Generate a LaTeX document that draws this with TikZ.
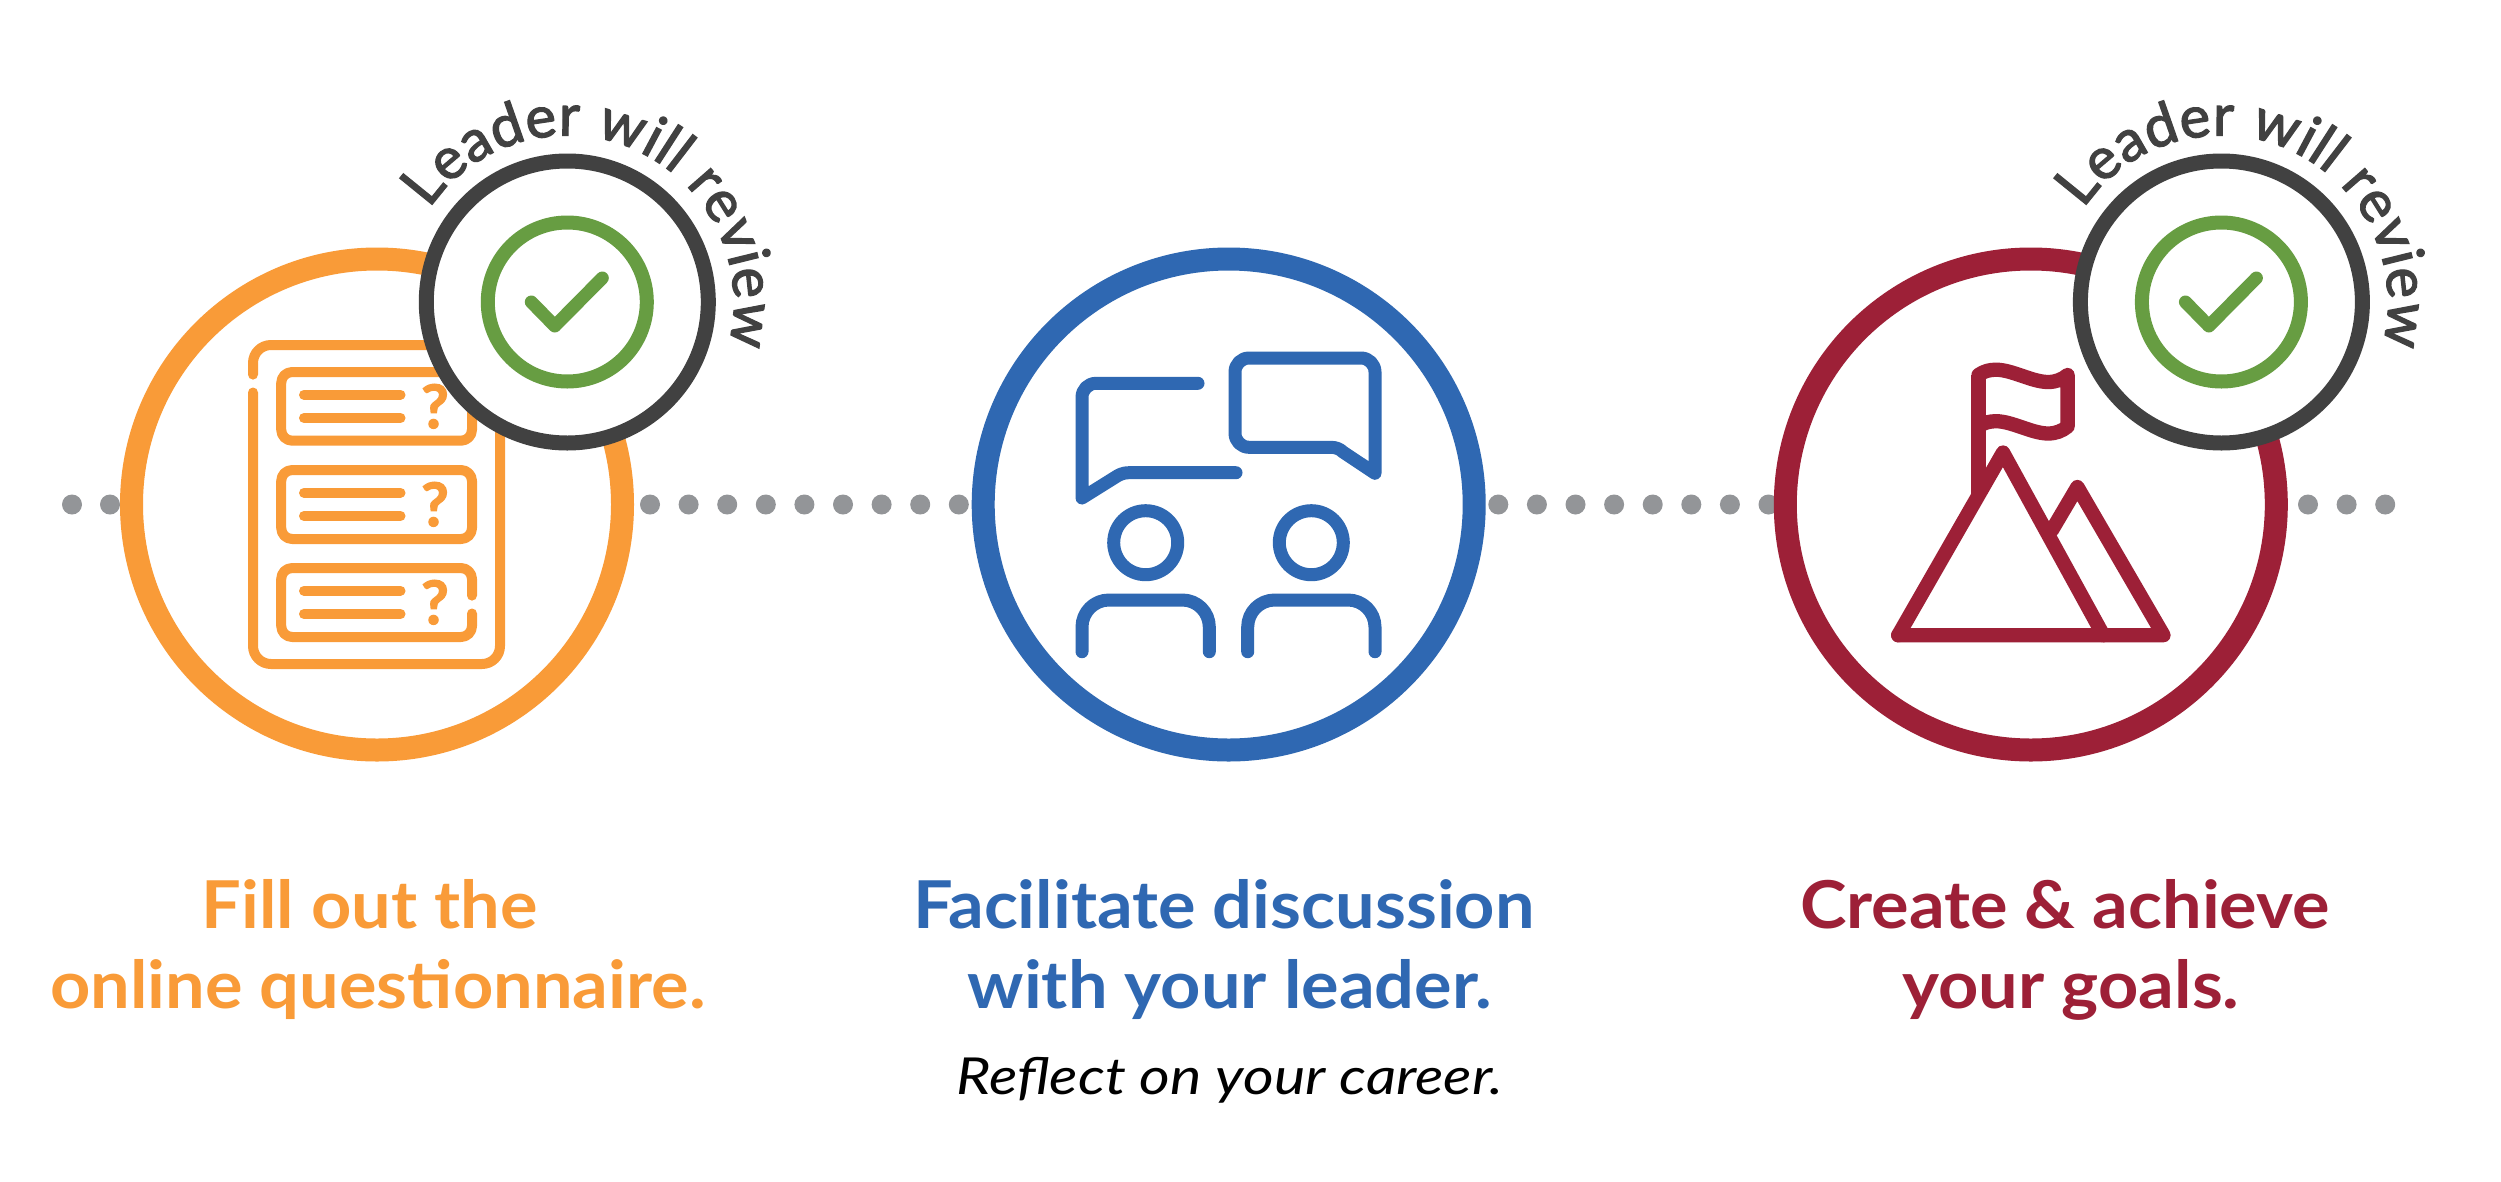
\documentclass[tikz,border=0pt]{standalone}
\usepackage{fontspec}
\setmainfont{Lato}
\newfontfamily\headfont{Lato Bold}[FakeStretch=1.065]
\newfontfamily\reflfont{Lato Italic}[FakeStretch=1.16]
\newfontfamily\arcfont{Lato}[FakeBold=2.2]
\newfontfamily\qfont{Lato Bold}[FakeBold=2.2]
\usetikzlibrary{decorations.text}
\definecolor{cOrange}{HTML}{F99B38}
\definecolor{cBlue}{HTML}{2F68B2}
\definecolor{cRed}{HTML}{9D2037}
\definecolor{cGreen}{HTML}{679D42}
\definecolor{cDark}{HTML}{414141}
\definecolor{cGray}{HTML}{939598}
\tikzset{
  gdot/.style={circle,fill=cGray,minimum size=20pt,inner sep=0pt,outer sep=0pt,draw=none},
  ring/.style={circle,draw=#1,fill=white,line width=23pt,minimum size=491pt,inner sep=0pt,outer sep=0pt},
  ic/.style={line width=#1,line cap=round,line join=round,fill=none},
  heading/.style={font=\fontsize{66}{66}\selectfont\headfont,anchor=base},
  qmark/.style={text=cOrange,font=\fontsize{60}{60}\selectfont\qfont,anchor=base,inner sep=0pt},
}
\newcommand{\dotrow}[3]{\foreach \k in {0,...,#3}{\node[gdot] (d#1\k) at ({#2+38.6*\k},-504.5) {};}}
\newcommand{\badge}[2]{%
  \begin{scope}[shift={(#1,-302)}]
    \node[circle,draw=cDark,fill=white,line width=15pt,minimum size=282pt,inner sep=0pt,outer sep=0pt] (b#2) at (0,0) {};
    \node[circle,draw=cGreen,line width=14pt,minimum size=159pt,inner sep=0pt,outer sep=0pt] (g#2) at (0,0) {};
    \draw[cGreen,line width=13pt,line cap=round,line join=round] (-36,0) -- (-12.5,-24) -- (35,24);
    \path[postaction={decorate,decoration={text along path,text align=fit to path,
      text={|\fontsize{58}{58}\selectfont\arcfont\color{cDark}|Leader will review}}}]
      (146:166.5) arc[start angle=146,end angle=-15,radius=166.5];
  \end{scope}}
\newcommand{\qbox}[2]{%
  \draw[cOrange,ic=10pt] (304,{-(#1+22.7)}) -- (400.5,{-(#1+22.7)});
  \draw[cOrange,ic=10pt] (304,{-(#1+46)}) -- (400.5,{-(#1+46)});
  \node[qmark] (q#2) at (435,{-(#1+56)}) {?};}
\begin{document}
\begin{tikzpicture}[x=1pt,y=1pt]
\useasboundingbox (0,0) rectangle (2501,-1181);
\fill[white] (0,0) rectangle (2501,-1181);
% dots
\node[gdot] (da0) at (72,-504.5) {};
\node[gdot] (da1) at (110,-504.5) {};
\dotrow{b}{650}{8}
\dotrow{c}{1498.3}{7}
\dotrow{e}{2308}{2}
% rings
\node[ring=cOrange] (ringA) at (377,-504.5) {};
\node[ring=cBlue] (ringB) at (1228.7,-504.5) {};
\node[ring=cRed] (ringC) at (2030.8,-504.5) {};
% questionnaire icon
\draw[cOrange,ic=10pt] (253,-392.5) -- (253,-646) arc[start angle=180,end angle=270,radius=18] -- (482,-664) arc[start angle=-90,end angle=0,radius=18] -- (500,-363) arc[start angle=0,end angle=90,radius=18] -- (271,-345) arc[start angle=90,end angle=180,radius=18] -- (253,-374.6);
\draw[cOrange,ic=10pt,rounded corners=11pt] (281.2,-372) rectangle (472,-440.7);
\draw[cOrange,ic=10pt,rounded corners=11pt] (281.2,-470) rectangle (472,-539);
\draw[cOrange,ic=10pt,rounded corners=11pt] (472,-595.6) -- (472,-568) -- (281.2,-568) -- (281.2,-637) -- (472,-637) -- (472,-613.5);
\qbox{372}{1}\qbox{470}{2}\qbox{568}{3}
% discussion icon
\begin{scope}[cBlue,ic=13pt]
\draw (1198,-383.3) -- (1096,-383.3) arc[start angle=90,end angle=180,radius=14] -- (1082,-498) -- (1118,-475.5) .. controls (1122,-473.5) and (1125,-472.7) .. (1129,-472.7) -- (1236,-472.7);
\draw (1375,-473.3) -- (1343,-452) .. controls (1340,-449) and (1336,-447.3) .. (1331,-447.3) -- (1249,-447.3) arc[start angle=270,end angle=180,radius=14] -- (1235,-372) arc[start angle=180,end angle=90,radius=14] -- (1361,-358) arc[start angle=90,end angle=0,radius=14] -- cycle;
\draw (1145.7,-542.7) circle[radius=32];
\draw (1311.3,-542.7) circle[radius=32];
\draw (1082,-651.7) -- (1082,-627) arc[start angle=180,end angle=90,radius=27] -- (1182.3,-600) arc[start angle=90,end angle=0,radius=27] -- (1209.3,-651.7);
\draw (1247.7,-651.7) -- (1247.7,-627) arc[start angle=180,end angle=90,radius=27] -- (1348,-600) arc[start angle=90,end angle=0,radius=27] -- (1375,-651.7);
\end{scope}
% mountain icon
\begin{scope}[cRed,ic=14.3pt]
\draw[line cap=butt] (1978.5,-494.5) -- (1978.5,-375);
\draw (1978.5,-375) .. controls (1984,-371) and (1990,-369.7) .. (1996,-369.7) .. controls (2012,-369.7) and (2032,-382) .. (2048,-382) .. controls (2056,-382) and (2062,-379.5) .. (2067.6,-375)
  -- (2067.6,-426.5) .. controls (2062,-431) and (2056,-433.5) .. (2048,-433.5) .. controls (2032,-433.5) and (2012,-421.2) .. (1996,-421.2) .. controls (1990,-421.2) and (1984,-422.5) .. (1978.5,-426.5);
\draw (1898.2,-635.2) -- (2003,-452.5) -- (2103.3,-635.2);
\draw (2052,-530) -- (2077.4,-487) -- (2163.5,-635.2) -- (1898.2,-635.2);
\end{scope}
% badges
\badge{567.3}{1}
\badge{2221.4}{2}
% headings
\node[heading,text=cOrange] (t1) at (370,-928) {Fill out the};
\node[heading,text=cOrange] (t2) at (378,-1008) {online questionnaire.};
\node[heading,text=cBlue] (t3) at (1224,-928) {Facilitate discussion};
\node[heading,text=cBlue] (t4) at (1230,-1008) {with your leader.};
\node[anchor=base,font=\fontsize{51}{51}\selectfont\reflfont] (t5) at (1230,-1094) {Reflect on your career.};
\node[heading,text=cRed] (t6) at (2065,-928) {Create \& achieve};
\node[heading,text=cRed] (t7) at (2071,-1008) {your goals.};
\end{tikzpicture}
\end{document}
